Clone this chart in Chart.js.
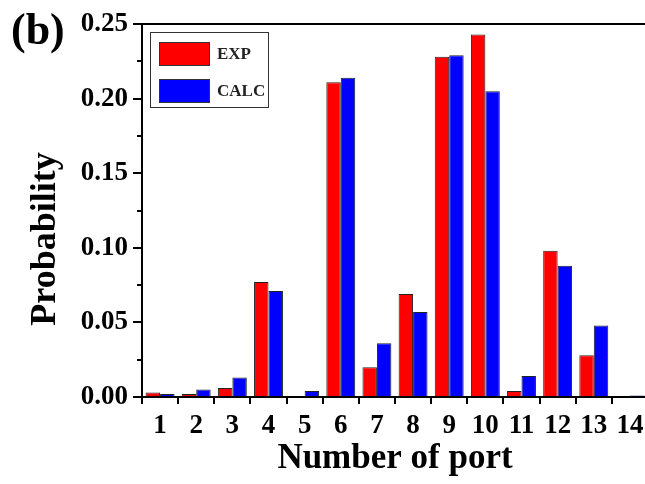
<!DOCTYPE html>
<html>
<head>
<meta charset="utf-8">
<script src="https://cdn.jsdelivr.net/npm/chart.js@4.4.1/dist/chart.umd.min.js"></script>
<style>
  html, body { margin: 0; padding: 0; background: #fff; overflow: hidden; }
  #wrap { width: 650px; height: 484px; }
</style>
</head>
<body>
<div id="wrap"><canvas id="portChart" width="650" height="484"></canvas></div>
<script>
  const ports = ['1', '2', '3', '4', '5', '6', '7', '8', '9', '10', '11', '12', '13', '14'];
  const expValues = [0.003, 0.002, 0.006, 0.077, 0, 0.211, 0.020, 0.069, 0.228, 0.243, 0.004, 0.098, 0.028, 0];
  const calcValues = [0.002, 0.005, 0.013, 0.071, 0.004, 0.214, 0.036, 0.057, 0.229, 0.205, 0.014, 0.088, 0.048, 0.001];
  const yTicks = [0, 0.05, 0.10, 0.15, 0.20, 0.25];
  const yMinorTicks = [0.025, 0.075, 0.125, 0.175, 0.225];

  const serif = '"Liberation Serif", "Times New Roman", serif';

  // frame line on top, minor ticks, y title, panel letter and boxed legend
  const decorPlugin = {
    id: 'decor',
    afterDraw(chart) {
      const c = chart.ctx;
      const area = chart.chartArea;
      const y = chart.scales.y;
      c.save();
      c.strokeStyle = '#000';
      c.lineWidth = 2;
      c.beginPath();
      c.moveTo(area.left - 1, area.top);
      c.lineTo(area.right, area.top);
      c.stroke();

      // minor ticks
      yMinorTicks.forEach(v => {
        const py = Math.round(y.getPixelForValue(v));
        c.beginPath();
        c.moveTo(area.left - 5, py);
        c.lineTo(area.left, py);
        c.stroke();
      });

      // y title, sits a bit below the axis middle like the original
      c.fillStyle = '#000';
      c.save();
      c.translate(46, 239);
      c.rotate(-Math.PI / 2);
      c.font = 'bold 36px ' + serif;
      c.textAlign = 'center';
      c.textBaseline = 'middle';
      c.fillText('Probability', 0, 0);
      c.restore();

      // (b)
      c.font = 'bold 44px ' + serif;
      c.textAlign = 'left';
      c.textBaseline = 'alphabetic';
      c.fillText('(b)', 11, 44);

      // legend
      const lx = area.left + 8, ly = area.top + 8;
      c.lineWidth = 1;
      c.strokeStyle = '#333';
      c.strokeRect(lx + 0.5, ly + 0.5, 118, 75);
      c.font = 'bold 17px ' + serif;
      c.textBaseline = 'middle';
      chart.data.datasets.forEach((ds, i) => {
        const sy = ly + 10 + i * 37;
        c.fillStyle = ds.backgroundColor;
        c.fillRect(lx + 9, sy, 51, 24);
        c.strokeStyle = '#333';
        c.strokeRect(lx + 9.5, sy + 0.5, 50, 23);
        c.fillStyle = '#222';
        c.fillText(ds.label, lx + 67, sy + 13);
      });
      c.restore();
    }
  };

  const ctx = document.getElementById('portChart').getContext('2d');

  const portChart = new Chart(ctx, {
    type: 'bar',
    data: {
      labels: ports,
      datasets: [
        {
          label: 'EXP',
          data: expValues,
          backgroundColor: '#ff0000',
          borderColor: '#222',
          borderWidth: 1,
          categoryPercentage: 0.8,
          barPercentage: 1.0
        },
        {
          label: 'CALC',
          data: calcValues,
          backgroundColor: '#0000ff',
          borderColor: '#222',
          borderWidth: 1,
          categoryPercentage: 0.8,
          barPercentage: 1.0
        }
      ]
    },
    options: {
      responsive: false,
      animation: false,
      devicePixelRatio: 1,
      layout: { padding: { top: 24, right: 2, left: 0, bottom: 0 } },
      plugins: {
        legend: { display: false },
        tooltip: { enabled: false }
      },
      scales: {
        x: {
          offset: true,
          afterFit: s => { s.height = 87; },
          grid: { drawOnChartArea: false, color: '#000', lineWidth: 2, tickLength: 7 },
          border: { color: '#000', width: 2 },
          ticks: {
            color: '#000',
            font: { family: serif, size: 27, weight: 'bold' },
            padding: 6,
            maxRotation: 0,
            autoSkip: false
          },
          title: {
            display: true,
            text: 'Number of port',
            color: '#000',
            font: { family: serif, size: 35, weight: 'bold', lineHeight: 1 },
            padding: { top: 0, bottom: 8 }
          }
        },
        y: {
          min: 0,
          max: 0.25,
          afterFit: s => { s.width = 142; },
          afterBuildTicks: s => { s.ticks = yTicks.map(v => ({ value: v })); },
          grid: { drawOnChartArea: false, color: '#000', lineWidth: 2, tickLength: 9 },
          border: { color: '#000', width: 2 },
          ticks: {
            color: '#000',
            font: { family: serif, size: 27, weight: 'bold' },
            padding: 5,
            callback: v => v.toFixed(2)
          }
        }
      }
    },
    plugins: [decorPlugin]
  });
</script>
</body>
</html>
